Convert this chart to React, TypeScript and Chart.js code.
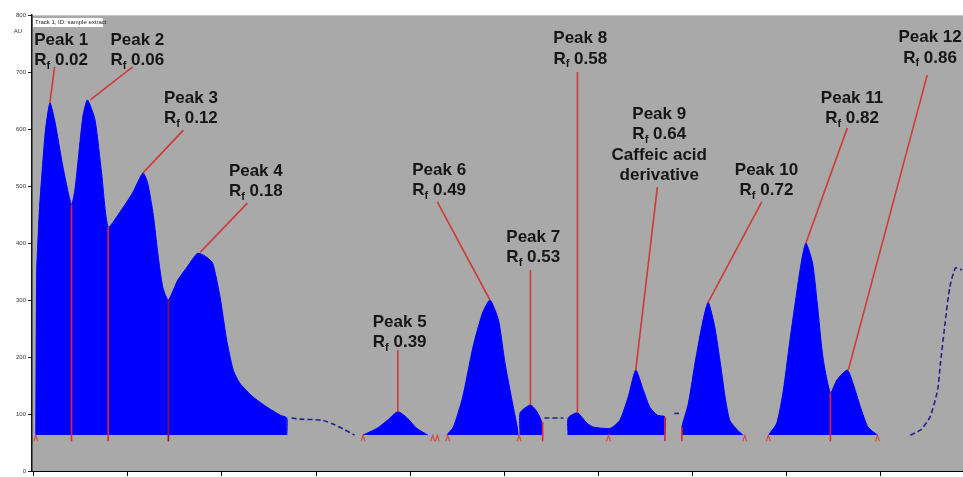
import React, { useEffect, useRef } from "react";
import { Chart, registerables } from "chart.js";

Chart.register(...registerables);

// Densitometric scan: x = track position (mm), y = signal (AU)
const BASELINE = 63;
const xTicks = [0, 10, 20, 30, 40, 50, 60, 70, 80, 90];

const bandPeaks1to4: [number, number][] = [
  [0.2, 63], [0.3, 350], [0.5, 430], [0.6, 463], [1.2, 593], [1.7, 646], [2.2, 616], [3.1, 533],
  [4.0, 467], [4.4, 498], [5.2, 621], [5.7, 651], [6.5, 616], [7.2, 523], [7.9, 428], [9.1, 453],
  [10.5, 488], [11.6, 523], [12.1, 505], [12.7, 449], [13.2, 379], [13.7, 323], [14.3, 300],
  [15.3, 335], [16.3, 358], [17.4, 382], [18.2, 377], [19.0, 365], [19.8, 305], [20.5, 230],
  [21.2, 177], [21.9, 154], [23.3, 130], [24.8, 112], [26.2, 98], [26.9, 93], [26.9, 63],
];
const bandPeak5: [number, number][] = [
  [35.0, 63], [36.5, 75], [37.6, 89], [38.7, 104], [39.7, 93], [40.7, 75], [41.9, 63],
];
const bandPeak6: [number, number][] = [
  [43.9, 63], [44.6, 77], [45.6, 130], [46.7, 218], [47.7, 277], [48.5, 300], [49.4, 265],
  [50.1, 189], [50.9, 119], [51.4, 77], [51.5, 63],
];
const bandPeak7: [number, number][] = [
  [51.7, 63], [51.7, 102], [52.8, 116], [53.5, 104], [54.0, 86], [54.1, 63],
];
const bandPeaks8to9: [number, number][] = [
  [56.8, 63], [56.8, 93], [57.8, 102], [58.8, 84], [59.5, 77], [61.3, 75], [62.3, 89], [63.2, 130],
  [64.0, 177], [64.8, 142], [65.5, 112], [66.3, 98], [67.1, 95], [67.1, 63],
];
const bandPeak10: [number, number][] = [
  [68.9, 63], [68.9, 77], [69.6, 119], [70.3, 189], [71.1, 260], [71.7, 296], [72.4, 253],
  [73.0, 189], [73.5, 130], [74.0, 89], [74.8, 72], [75.4, 63],
];
const bandPeaks11to12: [number, number][] = [
  [78.1, 63], [79.0, 84], [79.7, 142], [80.4, 230], [81.2, 323], [81.7, 375], [82.1, 400],
  [82.8, 365], [83.3, 295], [83.9, 200], [84.7, 137], [85.4, 160], [86.5, 177], [87.1, 154],
  [87.9, 112], [88.7, 77], [89.7, 63],
];

const traceGapA: [number, number][] = [
  [27.4, 93], [28.3, 91], [30.7, 89], [32.0, 81], [33.1, 72], [34.1, 63],
];
const traceGapB: [number, number][] = [[54.3, 93], [56.3, 93]];
const traceGapC: [number, number][] = [[68.1, 101], [68.6, 101]];
const traceTail: [number, number][] = [
  [93.2, 63], [94.3, 72], [95.3, 95], [96.1, 142], [96.4, 189], [96.9, 260], [97.4, 323],
  [98.0, 356], [98.7, 353],
];

const peakNames = ["Peak 1", "Peak 2", "Peak 3", "Peak 4", "Peak 5", "Peak 6", "Peak 7", "Peak 8", "Peak 9", "Peak 10", "Peak 11", "Peak 12"];
const rfValues = ["0.02", "0.06", "0.12", "0.18", "0.39", "0.49", "0.53", "0.58", "0.64", "0.72", "0.82", "0.86"];
const extraLines: string[][] = [[], [], [], [], [], [], [], [], ["Caffeic acid", "derivative"], [], [], []];
// label centre (x, y of first line)
const labelX = [2.9, 11.0, 16.7, 23.6, 38.9, 43.1, 53.1, 58.1, 66.5, 77.9, 87.0, 95.3];
const labelY = [756, 756, 654, 526, 261, 528, 410, 759, 626, 528, 654, 760];
// leader line: from label to peak apex
const leaderFromX = [2.2, 10.5, 15.9, 22.7, 38.7, 42.9, 52.8, 57.8, 66.3, 77.4, 86.5, 95.0];
const leaderFromY = [709, 709, 598, 470, 212, 472, 353, 700, 498, 472, 602, 695];
const peakX = [1.7, 6.0, 11.6, 17.7, 38.7, 48.5, 52.8, 57.8, 64.0, 71.7, 82.1, 86.6];
const peakY = [646, 651, 523, 384, 104, 300, 116, 102, 177, 296, 400, 177];

// integration boundaries (x, top of line)
const boundaryX = [4.0, 7.9, 14.3, 84.7, 54.1, 67.1, 68.9];
const boundaryTop = [467, 428, 300, 137, 86, 95, 77];
const markerX = [0.2, 35.0, 42.4, 42.9, 44.0, 51.6, 61.1, 75.6, 78.1, 89.7];

const toPts = (a: [number, number][]) => a.map(([x, y]) => ({ x, y }));

const overlayPlugin = {
  id: "overlay",
  beforeDraw(chart: any) {
    const { ctx, chartArea: a } = chart;
    ctx.save();
    ctx.fillStyle = "#ffffff";
    ctx.fillRect(0, 0, chart.width, chart.height);
    ctx.fillStyle = "#a9a9a9";
    ctx.fillRect(a.left, a.top, a.right - a.left, a.bottom - a.top);
    ctx.strokeStyle = "#c8c8c8";
    ctx.lineWidth = 1;
    ctx.beginPath();
    ctx.moveTo(a.left, a.top + 0.5);
    ctx.lineTo(a.right, a.top + 0.5);
    ctx.stroke();
    ctx.restore();
  },
  afterDatasetsDraw(chart: any) {
    const { ctx, chartArea: a } = chart;
    const xs = chart.scales.x;
    const ys = chart.scales.y;
    const px = (v: number) => xs.getPixelForValue(v);
    const py = (v: number) => ys.getPixelForValue(v);
    ctx.save();
    // boundaries
    boundaryX.forEach((bx, i) => {
      ctx.strokeStyle = i === 2 ? "#8a1428" : "#e02828";
      ctx.lineWidth = 1.6;
      ctx.beginPath();
      ctx.moveTo(px(bx), py(boundaryTop[i]));
      ctx.lineTo(px(bx), py(BASELINE - 11));
      ctx.stroke();
    });
    ctx.strokeStyle = "#d84a3a";
    ctx.lineWidth = 1.2;
    markerX.forEach((mx) => {
      const x = px(mx);
      const y = py(BASELINE - 11);
      ctx.beginPath();
      ctx.moveTo(x - 2, y);
      ctx.lineTo(x, y - 6);
      ctx.lineTo(x + 2, y);
      ctx.stroke();
    });
    // leader lines
    ctx.strokeStyle = "#cf3a3a";
    ctx.lineWidth = 1.6;
    peakX.forEach((p, i) => {
      ctx.beginPath();
      ctx.moveTo(px(leaderFromX[i]), py(leaderFromY[i]));
      ctx.lineTo(px(p), py(peakY[i]));
      ctx.stroke();
    });
    // labels
    const big = 'bold 17px "Liberation Sans", Arial, sans-serif';
    const small = 'bold 11px "Liberation Sans", Arial, sans-serif';
    ctx.fillStyle = "#161616";
    ctx.textBaseline = "middle";
    const lh = 20.5;
    peakNames.forEach((name, i) => {
      const cx = px(labelX[i]);
      const cy = py(labelY[i]);
      ctx.font = big;
      ctx.textAlign = "center";
      ctx.fillText(name, cx, cy);
      // R_f line
      ctx.textAlign = "left";
      ctx.font = big;
      const wR = ctx.measureText("R").width;
      const tail = " " + rfValues[i];
      const wT = ctx.measureText(tail).width;
      ctx.font = small;
      const wf = ctx.measureText("f").width;
      const total = wR + wf + wT;
      let x = cx - total / 2;
      const y2 = cy + lh;
      ctx.font = big;
      ctx.fillText("R", x, y2);
      x += wR;
      ctx.font = small;
      ctx.fillText("f", x, y2 + 5);
      x += wf;
      ctx.font = big;
      ctx.fillText(tail, x, y2);
      ctx.textAlign = "center";
      extraLines[i].forEach((t, k) => {
        ctx.fillText(t, cx, cy + lh * (k + 2));
      });
    });
    // small legend box
    ctx.fillStyle = "#ffffff";
    ctx.fillRect(a.left + 1, a.top + 3, 70, 9);
    ctx.fillStyle = "#222";
    ctx.font = '6px "Liberation Sans", Arial, sans-serif';
    ctx.textAlign = "left";
    ctx.fillText("Track 1, ID: sample extract", a.left + 3, a.top + 7.5);
    // y unit
    ctx.fillStyle = "#333";
    ctx.font = '6px "Liberation Sans", Arial, sans-serif';
    ctx.textAlign = "right";
    ctx.fillText("AU", a.left - 10, a.top + 16);
    ctx.restore();
  },
};

export default function App() {
  const ref = useRef<HTMLCanvasElement | null>(null);
  useEffect(() => {
    document.body.style.margin = "0";
    if (!ref.current) return;
    const fillDs = (d: [number, number][]) => ({
      data: toPts(d),
      borderColor: "#0000ff",
      backgroundColor: "#0000ff",
      borderWidth: 1,
      pointRadius: 0,
      tension: 0.2,
      fill: { value: BASELINE },
    });
    const dashDs = (d: [number, number][]) => ({
      data: toPts(d),
      borderColor: "#23238c",
      borderWidth: 1.6,
      borderDash: [5, 3],
      pointRadius: 0,
      tension: 0.2,
      fill: false,
    });
    const chart = new Chart(ref.current, {
      type: "line",
      data: {
        datasets: [
          fillDs(bandPeaks1to4),
          fillDs(bandPeak5),
          fillDs(bandPeak6),
          fillDs(bandPeak7),
          fillDs(bandPeaks8to9),
          fillDs(bandPeak10),
          fillDs(bandPeaks11to12),
          dashDs(traceGapA),
          dashDs(traceGapB),
          dashDs(traceGapC),
          dashDs(traceTail),
        ] as any,
      },
      options: {
        animation: false,
        responsive: false,
        devicePixelRatio: 1,
        layout: { padding: { top: 15, right: 0, left: 0, bottom: 0 } },
        plugins: { legend: { display: false }, tooltip: { enabled: false } },
        scales: {
          x: {
            type: "linear",
            min: -0.2,
            max: 98.8,
            afterBuildTicks: (axis: any) => {
              axis.ticks = xTicks.map((v) => ({ value: v }));
            },
            afterFit: (s: any) => {
              s.height = 6;
            },
            grid: { drawOnChartArea: false, drawTicks: true, tickLength: 5, color: "#000" },
            border: { display: true, color: "#000", width: 1 },
            ticks: { display: false },
          },
          y: {
            type: "linear",
            min: 0,
            max: 800,
            afterFit: (s: any) => {
              s.width = 32;
            },
            grid: { drawOnChartArea: false, drawTicks: true, tickLength: 4, color: "#222" },
            border: { display: true, color: "#111", width: 1.5 },
            ticks: {
              stepSize: 100,
              padding: 2,
              color: "#333",
              font: { size: 6, family: '"Liberation Sans", Arial, sans-serif' },
            },
          },
        },
      },
      plugins: [overlayPlugin],
    } as any);
    return () => chart.destroy();
  }, []);
  return (
    <div style={{ position: "absolute", left: 0, top: 0, width: 963, height: 477 }}>
      <canvas ref={ref} width={963} height={477} style={{ width: 963, height: 477, display: "block" }} />
    </div>
  );
}
